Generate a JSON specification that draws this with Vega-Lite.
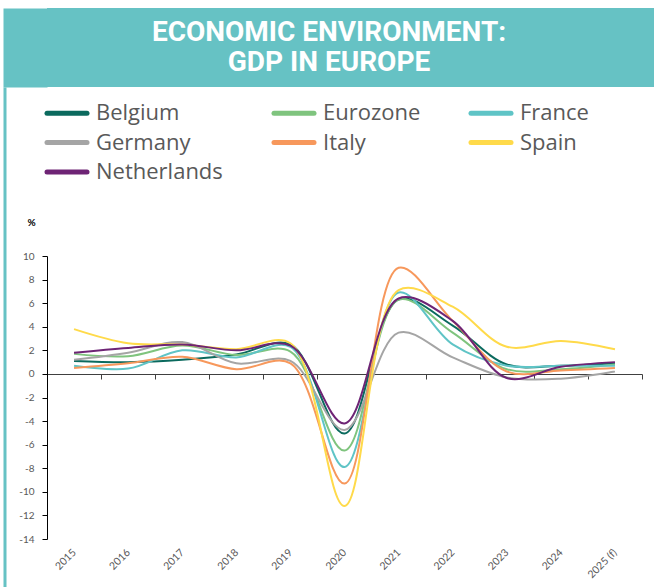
{
  "$schema": "https://vega.github.io/schema/vega-lite/v6.json",
  "padding": {"left": 4, "top": 8, "right": 0, "bottom": 0},
  "background": "white",
  "config": {"view": {"stroke": null}, "concat": {"spacing": 0}},
  "datasets": {
    "head": [{"t": "ECONOMIC ENVIRONMENT:\nGDP IN EUROPE"}],
    "gdp": [
      {"year": "2015", "country": "Belgium", "value": 1.1},
      {"year": "2016", "country": "Belgium", "value": 1.0},
      {"year": "2017", "country": "Belgium", "value": 1.2},
      {"year": "2018", "country": "Belgium", "value": 1.65},
      {"year": "2019", "country": "Belgium", "value": 2.5},
      {"year": "2020", "country": "Belgium", "value": -5.05},
      {"year": "2021", "country": "Belgium", "value": 6.3},
      {"year": "2022", "country": "Belgium", "value": 4.1},
      {"year": "2023", "country": "Belgium", "value": 0.8},
      {"year": "2024", "country": "Belgium", "value": 0.7},
      {"year": "2025 (f)", "country": "Belgium", "value": 0.9},
      {"year": "2015", "country": "Eurozone", "value": 1.7},
      {"year": "2016", "country": "Eurozone", "value": 1.5},
      {"year": "2017", "country": "Eurozone", "value": 2.4},
      {"year": "2018", "country": "Eurozone", "value": 1.6},
      {"year": "2019", "country": "Eurozone", "value": 1.9},
      {"year": "2020", "country": "Eurozone", "value": -6.5},
      {"year": "2021", "country": "Eurozone", "value": 6.3},
      {"year": "2022", "country": "Eurozone", "value": 3.5},
      {"year": "2023", "country": "Eurozone", "value": 0.4},
      {"year": "2024", "country": "Eurozone", "value": 0.4},
      {"year": "2025 (f)", "country": "Eurozone", "value": 0.8},
      {"year": "2015", "country": "France", "value": 0.7},
      {"year": "2016", "country": "France", "value": 0.45},
      {"year": "2017", "country": "France", "value": 2.0},
      {"year": "2018", "country": "France", "value": 1.4},
      {"year": "2019", "country": "France", "value": 2.3},
      {"year": "2020", "country": "France", "value": -7.9},
      {"year": "2021", "country": "France", "value": 6.9},
      {"year": "2022", "country": "France", "value": 2.5},
      {"year": "2023", "country": "France", "value": 0.7},
      {"year": "2024", "country": "France", "value": 0.7},
      {"year": "2025 (f)", "country": "France", "value": 0.7},
      {"year": "2015", "country": "Germany", "value": 1.2},
      {"year": "2016", "country": "Germany", "value": 1.8},
      {"year": "2017", "country": "Germany", "value": 2.7},
      {"year": "2018", "country": "Germany", "value": 0.9},
      {"year": "2019", "country": "Germany", "value": 1.1},
      {"year": "2020", "country": "Germany", "value": -4.75},
      {"year": "2021", "country": "Germany", "value": 3.5},
      {"year": "2022", "country": "Germany", "value": 1.4},
      {"year": "2023", "country": "Germany", "value": -0.3},
      {"year": "2024", "country": "Germany", "value": -0.4},
      {"year": "2025 (f)", "country": "Germany", "value": 0.2},
      {"year": "2015", "country": "Italy", "value": 0.5},
      {"year": "2016", "country": "Italy", "value": 0.9},
      {"year": "2017", "country": "Italy", "value": 1.45},
      {"year": "2018", "country": "Italy", "value": 0.4},
      {"year": "2019", "country": "Italy", "value": 0.9},
      {"year": "2020", "country": "Italy", "value": -9.3},
      {"year": "2021", "country": "Italy", "value": 9.0},
      {"year": "2022", "country": "Italy", "value": 4.5},
      {"year": "2023", "country": "Italy", "value": 0.2},
      {"year": "2024", "country": "Italy", "value": 0.3},
      {"year": "2025 (f)", "country": "Italy", "value": 0.5},
      {"year": "2015", "country": "Spain", "value": 3.8},
      {"year": "2016", "country": "Spain", "value": 2.6},
      {"year": "2017", "country": "Spain", "value": 2.5},
      {"year": "2018", "country": "Spain", "value": 2.1},
      {"year": "2019", "country": "Spain", "value": 2.6},
      {"year": "2020", "country": "Spain", "value": -11.2},
      {"year": "2021", "country": "Spain", "value": 7.1},
      {"year": "2022", "country": "Spain", "value": 5.7},
      {"year": "2023", "country": "Spain", "value": 2.3},
      {"year": "2024", "country": "Spain", "value": 2.8},
      {"year": "2025 (f)", "country": "Spain", "value": 2.1},
      {"year": "2015", "country": "Netherlands", "value": 1.8},
      {"year": "2016", "country": "Netherlands", "value": 2.2},
      {"year": "2017", "country": "Netherlands", "value": 2.5},
      {"year": "2018", "country": "Netherlands", "value": 2.0},
      {"year": "2019", "country": "Netherlands", "value": 2.4},
      {"year": "2020", "country": "Netherlands", "value": -4.2},
      {"year": "2021", "country": "Netherlands", "value": 6.4},
      {"year": "2022", "country": "Netherlands", "value": 4.5},
      {"year": "2023", "country": "Netherlands", "value": -0.35},
      {"year": "2024", "country": "Netherlands", "value": 0.6},
      {"year": "2025 (f)", "country": "Netherlands", "value": 1.0}
    ]
  },
  "vconcat": [
    {
      "width": 607,
      "height": 79,
      "view": {"fill": "#66C2C4", "stroke": null},
      "data": {"name": "head"},
      "mark": {"type": "text", "color": "white", "font": "Roboto", "fontWeight": "bold", "fontSize": 28, "lineBreak": "\n", "lineHeight": 30.5, "align": "center", "baseline": "middle", "dx": -21.5, "dy": -15},
      "encoding": {
        "text": {"field": "t", "type": "nominal"},
        "y": {"datum": 0.5, "type": "quantitative", "scale": {"domain": [0, 1]},
          "axis": {"orient": "left", "offset": 22, "domain": true, "domainColor": "#66C2C4", "domainWidth": 44, "ticks": false, "labels": false, "title": null, "grid": false}}
      }
    },
    {
      "width": 595,
      "height": 500,
      "data": {"name": "gdp"},
      "resolve": {"scale": {"y": "independent"}, "axis": {"x": "independent", "y": "independent"}},
      "layer": [
        {
          "mark": {"type": "point", "opacity": 0},
          "encoding": {
            "x": {"field": "year", "type": "ordinal", "bandPosition": 0.5,
              "axis": {"orient": "bottom", "offset": -213, "domain": true, "domainColor": "#404040", "domainWidth": 1, "ticks": true, "tickBand": "extent", "tickSize": 5, "tickColor": "#404040", "labels": false, "title": null, "grid": false}},
            "y": {"field": "value", "type": "quantitative",
              "axis": {"orient": "left", "offset": 42.5, "domain": true, "domainColor": "#66C2C4", "domainWidth": 3, "ticks": false, "labels": false, "title": null, "grid": false}}
          }
        },
        {
          "mark": {"type": "line", "interpolate": "catmull-rom", "strokeWidth": 2},
          "encoding": {
            "x": {"field": "year", "type": "ordinal", "bandPosition": 0.5,
              "scale": {"type": "band", "paddingInner": 0, "paddingOuter": 0},
              "axis": {"orient": "bottom", "offset": -48, "domain": false, "ticks": false, "tickSize": 0, "labelAngle": -45, "labelColor": "#595959", "labelFontSize": 10.5, "labelFont": "Lato", "labelPadding": 8, "labelOffset": -3, "title": null, "grid": false}},
            "y": {"field": "value", "type": "quantitative",
              "scale": {"domain": [-14, 10], "range": [452, 169], "nice": false, "zero": false},
              "axis": {"orient": "left", "values": [-14, -12, -10, -8, -6, -4, -2, 0, 2, 4, 6, 8, 10], "domainColor": "#000000", "domainWidth": 1, "tickColor": "#000000", "tickSize": 5, "grid": false, "labelColor": "#595959", "labelFontSize": 10, "labelFont": "Lato", "labelPadding": 8, "labelExpr": "'' + datum.value", "title": "%", "titleAngle": 0, "titleX": -16, "titleY": 135, "titleAlign": "center", "titleBaseline": "middle", "titleFontSize": 10, "titleFontWeight": "bold", "titleColor": "#000000", "titleFont": "Lato"}},
            "color": {"field": "country", "type": "nominal",
              "scale": {"domain": ["Belgium", "Eurozone", "France", "Germany", "Italy", "Spain", "Netherlands"], "range": ["#0B6A5E", "#7FC47E", "#5FC4C6", "#A5A5A5", "#F7985C", "#FFDA4A", "#6E2475"]},
              "legend": {"orient": "none", "legendX": 7.5, "legendY": 92.5, "columns": 3, "direction": "horizontal", "title": null, "symbolType": "M-2,0H2", "symbolSize": 400, "symbolStrokeWidth": 5, "labelFontSize": 22, "labelFont": "Open Sans", "labelColor": "#595959", "labelOffset": 16.5, "columnPadding": 40, "rowPadding": 5.5, "padding": 0, "labelLimit": 300, "gridAlign": "each",
                "encode": {"symbols": {"update": {"strokeCap": {"value": "round"}}}}}}
          }
        }
      ]
    }
  ]
}
